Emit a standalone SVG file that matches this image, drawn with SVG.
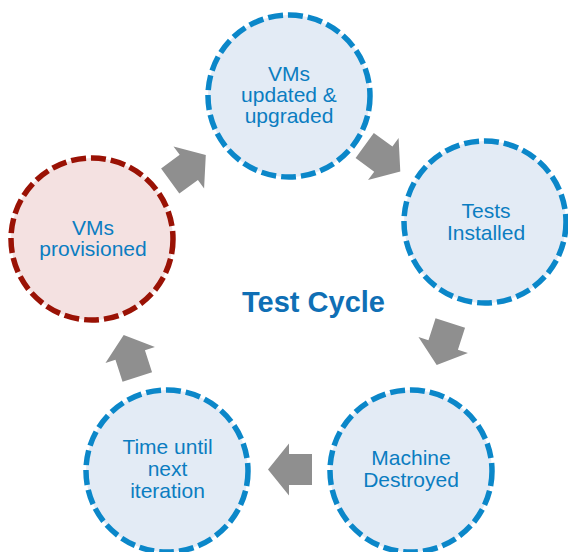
<svg xmlns="http://www.w3.org/2000/svg" width="568" height="552" viewBox="0 0 568 552">
  <style>
    .node { fill: #E3EBF5; stroke: #0B87C9; stroke-width: 5.5; stroke-dasharray: 15 5; }
    .start { fill: #F4E1E1; stroke: #9A1205; stroke-width: 5.5; stroke-dasharray: 15 5; }
    .lbl { font-family: "Liberation Sans", Arial, sans-serif; font-size: 21px; fill: #0B7DC1; text-anchor: middle; }
    .title { font-family: "Liberation Sans", Arial, sans-serif; font-size: 29px; font-weight: bold; fill: #0F6FB5; text-anchor: middle; }
    .arrow { fill: #8F8F8F; }
  </style>
  <defs>
    <polygon id="blockArrow" class="arrow" points="-22,-15.5 1,-15.5 1,-26 22,0 1,26 1,15.5 -22,15.5"/>
  </defs>
  <rect width="568" height="552" fill="#FFFFFF"/>

  <g id="connectors">
    <use href="#blockArrow" transform="translate(188,168) rotate(-36)"/>
    <use href="#blockArrow" transform="translate(382.5,158.5) rotate(36)"/>
    <use href="#blockArrow" transform="translate(443.5,344) rotate(108)"/>
    <use href="#blockArrow" transform="translate(290,469.5) rotate(180)"/>
    <use href="#blockArrow" transform="translate(130.5,356) rotate(252)"/>
  </g>

  <g id="node-updated">
    <circle class="node" cx="289" cy="96" r="81"/>
    <text class="lbl" x="289" y="80.5">VMs</text>
    <text class="lbl" x="289" y="101.5">updated &amp;</text>
    <text class="lbl" x="289" y="122.5">upgraded</text>
  </g>
  <g id="node-tests">
    <circle class="node" cx="485" cy="222" r="81"/>
    <text class="lbl" x="486" y="218">Tests</text>
    <text class="lbl" x="486" y="240">Installed</text>
  </g>
  <g id="node-destroyed">
    <circle class="node" cx="411" cy="471" r="81"/>
    <text class="lbl" x="411" y="465">Machine</text>
    <text class="lbl" x="411" y="487">Destroyed</text>
  </g>
  <g id="node-wait">
    <circle class="node" cx="167" cy="471" r="81"/>
    <text class="lbl" x="167.5" y="454">Time until</text>
    <text class="lbl" x="167.5" y="476">next</text>
    <text class="lbl" x="167.5" y="498">iteration</text>
  </g>
  <g id="node-provisioned">
    <circle class="start" cx="92" cy="239" r="81"/>
    <text class="lbl" x="93" y="235">VMs</text>
    <text class="lbl" x="93" y="256">provisioned</text>
  </g>

  <g id="title">
    <text class="title" x="313.5" y="312">Test Cycle</text>
  </g>
</svg>
